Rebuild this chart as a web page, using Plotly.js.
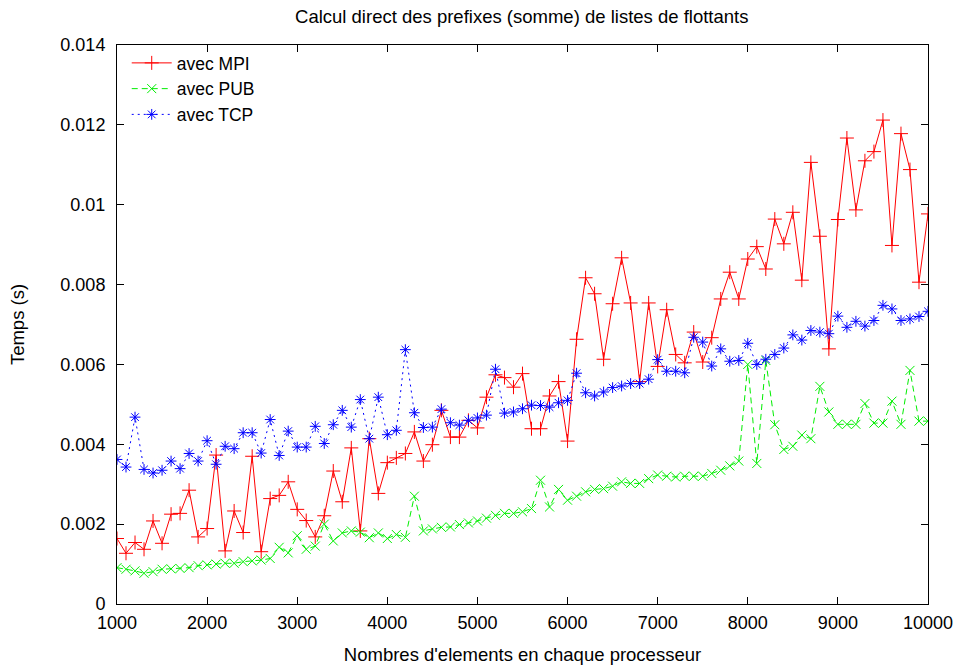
<!DOCTYPE html>
<html>
<head>
<meta charset="utf-8">
<script src="https://cdn.plot.ly/plotly-3.0.1.min.js"></script>
<style>
  html, body { margin: 0; padding: 0; background: #fff; }
  #chart { width: 960px; height: 666px; }
</style>
</head>
<body>
<div id="chart"></div>
<script>
const sizes = [1000,1100,1200,1300,1400,1500,1600,1700,1800,1900,
  2000,2100,2200,2300,2400,2500,2600,2700,2800,2900,
  3000,3100,3200,3300,3400,3500,3600,3700,3800,3900,
  4000,4100,4200,4300,4400,4500,4600,4700,4800,4900,
  5000,5100,5200,5300,5400,5500,5600,5700,5800,5900,
  6000,6100,6200,6300,6400,6500,6600,6700,6800,6900,
  7000,7100,7200,7300,7400,7500,7600,7700,7800,7900,
  8000,8100,8200,8300,8400,8500,8600,8700,8800,8900,
  9000,9100,9200,9300,9400,9500,9600,9700,9800,9900,10000];

const mpi = [0.00164,0.00127,0.00154,0.00137,0.00208,0.00152,0.00225,0.00227,0.00285,0.00168,
  0.00189,0.00373,0.00133,0.00233,0.00179,0.00370,0.00131,0.00264,0.00272,0.00306,
  0.00237,0.00209,0.00168,0.00221,0.00333,0.00256,0.00391,0.00183,0.00414,0.00277,
  0.00354,0.00366,0.00377,0.00431,0.00358,0.00399,0.00485,0.00418,0.00418,0.00460,
  0.00441,0.00518,0.00574,0.00567,0.00543,0.00577,0.00439,0.00439,0.00521,0.00557,
  0.00408,0.00663,0.00817,0.00777,0.00613,0.00752,0.00867,0.00754,0.00557,0.00754,
  0.00595,0.00737,0.00625,0.00604,0.00681,0.00606,0.00667,0.00764,0.00831,0.00764,
  0.00864,0.00895,0.00839,0.00964,0.00902,0.00981,0.00811,0.01106,0.00921,0.00639,
  0.00963,0.01167,0.00987,0.01110,0.01133,0.01212,0.00898,0.01178,0.01088,0.00806,0.00977];

const pub = [0.00091,0.00087,0.00083,0.00077,0.00081,0.00087,0.00088,0.00089,0.00091,0.00096,
  0.00098,0.00100,0.00102,0.00102,0.00106,0.00108,0.00110,0.00114,0.00142,0.00128,
  0.00171,0.00137,0.00145,0.00200,0.00158,0.00178,0.00183,0.00180,0.00166,0.00178,
  0.00164,0.00174,0.00167,0.00270,0.00183,0.00188,0.00192,0.00193,0.00199,0.00203,
  0.00208,0.00215,0.00222,0.00227,0.00227,0.00231,0.00239,0.00310,0.00243,0.00287,
  0.00260,0.00270,0.00281,0.00287,0.00289,0.00295,0.00306,0.00302,0.00302,0.00314,
  0.00323,0.00320,0.00318,0.00320,0.00320,0.00320,0.00327,0.00335,0.00346,0.00358,
  0.00600,0.00352,0.00610,0.00449,0.00387,0.00395,0.00423,0.00414,0.00545,0.00481,
  0.00450,0.00450,0.00450,0.00502,0.00453,0.00453,0.00508,0.00450,0.00585,0.00458,0.00458];

const tcp = [0.00362,0.00343,0.00468,0.00337,0.00328,0.00335,0.00358,0.00339,0.00377,0.00358,
  0.00409,0.00350,0.00395,0.00389,0.00429,0.00429,0.00378,0.00462,0.00372,0.00433,
  0.00393,0.00393,0.00445,0.00402,0.00449,0.00485,0.00443,0.00512,0.00414,0.00518,
  0.00424,0.00435,0.00637,0.00479,0.00442,0.00443,0.00488,0.00454,0.00448,0.00460,
  0.00466,0.00473,0.00588,0.00478,0.00481,0.00489,0.00498,0.00497,0.00493,0.00504,
  0.00510,0.00578,0.00529,0.00521,0.00531,0.00542,0.00546,0.00552,0.00552,0.00563,
  0.00612,0.00583,0.00583,0.00579,0.00668,0.00656,0.00596,0.00639,0.00608,0.00610,
  0.00653,0.00600,0.00613,0.00625,0.00641,0.00674,0.00661,0.00685,0.00681,0.00677,
  0.00721,0.00693,0.00708,0.00696,0.00710,0.00748,0.00739,0.00710,0.00714,0.00720,0.00733];

const seriesNames = ['avec MPI', 'avec PUB', 'avec TCP'];
const titleText = 'Calcul direct des prefixes (somme) de listes de flottants';
const xTitle = "Nombres d'elements en chaque processeur";
const yTitle = 'Temps (s)';

const FONT = 'Liberation Sans, Arial, Helvetica, sans-serif';

const traces = [
  {
    x: sizes, y: mpi, name: seriesNames[0], type: 'scatter', mode: 'lines+markers',
    line: { color: '#ff0000', width: 1 },
    marker: { symbol: 'cross-thin-open', size: 10, color: '#ff0000', line: { color: '#ff0000', width: 1 } }
  },
  {
    x: sizes, y: pub, name: seriesNames[1], type: 'scatter', mode: 'lines+markers',
    line: { color: '#00ee00', width: 1, dash: '6px,4px' },
    marker: { symbol: 'x-thin-open', size: 9, color: '#00ee00', line: { color: '#00ee00', width: 1 } }
  },
  {
    x: sizes, y: tcp, name: seriesNames[2], type: 'scatter', mode: 'lines+markers',
    line: { color: '#0000ff', width: 1, dash: '2px,4px' },
    marker: { symbol: 'asterisk-open', size: 9, color: '#0000ff', line: { color: '#0000ff', width: 1 } }
  }
];

const layout = {
  width: 960, height: 666,
  margin: { l: 117, r: 32, t: 45, b: 62 },
  paper_bgcolor: '#ffffff', plot_bgcolor: '#ffffff',
  font: { family: FONT, size: 18, color: '#000000' },
  title: { text: titleText, font: { family: FONT, size: 18.5, color: '#000' }, x: 0.5435, xanchor: 'center', y: 0.975, yanchor: 'middle' },
  showlegend: true,
  legend: {
    x: 0.012, y: 1.0, xanchor: 'left', yanchor: 'top',
    bgcolor: 'rgba(0,0,0,0)', borderwidth: 0,
    font: { family: FONT, size: 17.5, color: '#000' },
    tracegroupgap: 0, itemwidth: 40
  },
  xaxis: {
    range: [1000, 10000], tickmode: 'linear', tick0: 1000, dtick: 1000, tickformat: 'd',
    ticks: 'inside', ticklen: 7, tickcolor: '#000', tickwidth: 1,
    showline: true, linecolor: '#000', linewidth: 1, mirror: 'ticks',
    showgrid: false, zeroline: false,
    ticklabelstandoff: 2,
    tickfont: { family: FONT, size: 18, color: '#000' },
    title: { text: xTitle, font: { family: FONT, size: 18.5, color: '#000' }, standoff: 16 }
  },
  yaxis: {
    range: [0, 0.014], tickmode: 'linear', tick0: 0, dtick: 0.002,
    ticks: 'inside', ticklen: 7, tickcolor: '#000', tickwidth: 1,
    showline: true, linecolor: '#000', linewidth: 1, mirror: 'ticks',
    showgrid: false, zeroline: false,
    ticklabelstandoff: 7,
    tickfont: { family: FONT, size: 18, color: '#000' },
    title: { text: yTitle, font: { family: FONT, size: 18.5, color: '#000' }, standoff: 30 }
  }
};

Plotly.newPlot('chart', traces, layout, { displayModeBar: false, staticPlot: true });
</script>
</body>
</html>
